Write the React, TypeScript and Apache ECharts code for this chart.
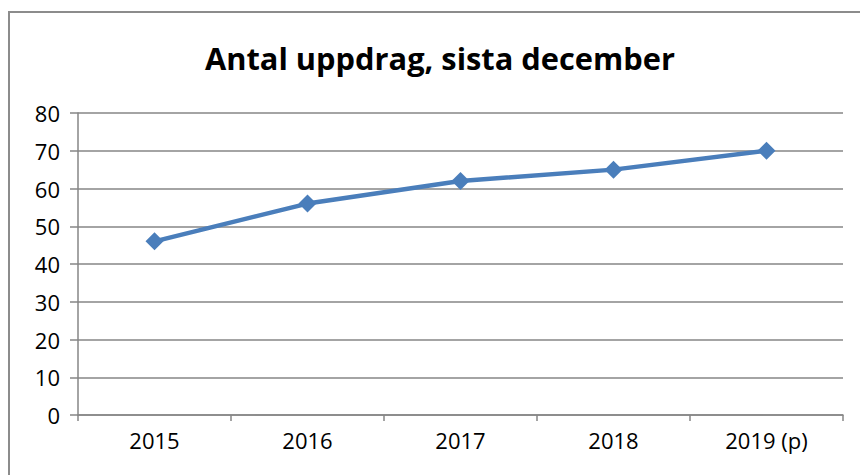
import React, { useEffect, useRef } from "react";
import * as echarts from "echarts";

const categories = ["2015", "2016", "2017", "2018", "2019 (p)"];
const values = [46, 56, 62, 65, 70];
const titleText = "Antal uppdrag, sista december";

export default function App() {
  const ref = useRef<HTMLDivElement>(null);
  useEffect(() => {
    document.body.style.margin = "0";
    const chart = echarts.init(ref.current!, null, { renderer: "svg" });
    const font = "'Open Sans', sans-serif";
    chart.setOption({
      animation: false,
      backgroundColor: "#ffffff",
      title: {
        text: titleText,
        left: 200,
        top: 37,
        textStyle: { fontFamily: font, fontWeight: "bold", fontSize: 30.8, color: "#000" },
      },
      graphic: [
        {
          type: "rect",
          shape: { x: 9, y: 12, width: 900, height: 500 },
          style: { fill: "none", stroke: "#8c8c8c", lineWidth: 2 },
          silent: true,
        },
      ],
      grid: { left: 78, right: 17, top: 113, bottom: 60 },
      xAxis: {
        type: "category",
        data: categories,
        boundaryGap: true,
        axisLine: { lineStyle: { color: "#868686", width: 1.5 } },
        axisTick: { show: true, length: 6, lineStyle: { color: "#868686", width: 1.5 } },
        axisLabel: { fontFamily: font, fontSize: 22, color: "#000", margin: 14 },
      },
      yAxis: {
        type: "value",
        min: 0,
        max: 80,
        interval: 10,
        axisLine: { show: true, lineStyle: { color: "#868686", width: 1.5 } },
        axisTick: { show: true, length: 8, lineStyle: { color: "#868686", width: 1.5 } },
        axisLabel: { fontFamily: font, fontSize: 22, color: "#000", margin: 18 },
        splitLine: { lineStyle: { color: "#868686", width: 1.5 } },
      },
      series: [
        {
          type: "line",
          data: values,
          symbol: "diamond",
          symbolSize: 18,
          lineStyle: { color: "#4a7ebb", width: 4.5 },
          itemStyle: { color: "#4a7ebb" },
        },
      ],
    });
    return () => chart.dispose();
  }, []);
  return <div ref={ref} style={{ width: 860, height: 475 }} />;
}
